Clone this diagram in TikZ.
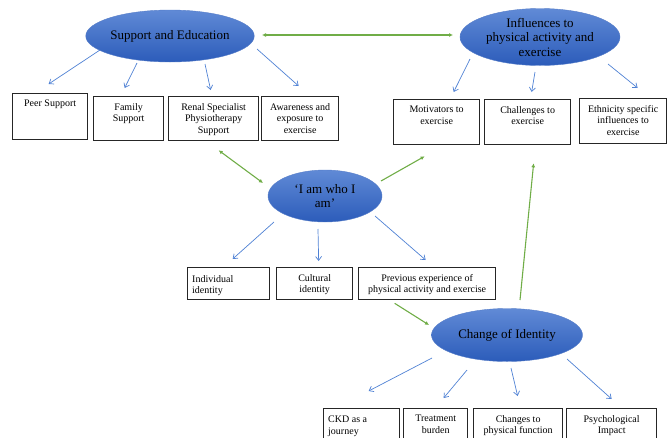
\documentclass[tikz,border=0pt]{standalone}
\usepackage{fontspec}
\setmainfont{Liberation Serif}
\usetikzlibrary{arrows.meta,shapes.geometric}
\definecolor{themetop}{RGB}{96,138,214}
\definecolor{themebot}{RGB}{44,92,186}
\definecolor{linkblue}{RGB}{79,129,212}
\definecolor{linkgreen}{RGB}{112,173,71}
\begin{document}
\begin{tikzpicture}[x=1pt,y=-1pt,
  theme/.style={ellipse, top color=themetop, bottom color=themebot, draw=themebot!80!white,
    align=center, inner sep=0pt, font=\fontsize{13}{14.5}\selectfont},
  box/.style={draw=black!85, line width=1.3pt, anchor=north west, minimum height=45pt},
  lbl/.style={anchor=north, align=center, inner sep=3pt, yshift=-4pt, font=\fontsize{10}{11.5}\selectfont},
  lbll/.style={anchor=north west, align=left, inner sep=5pt, yshift=-3pt, font=\fontsize{10}{11.5}\selectfont},
  sub/.style={linkblue, line width=0.7pt, -{Straight Barb[length=4pt,width=6pt]}},
  link/.style={linkgreen, line width=1.1pt, -{Latex[length=4pt,width=4pt]}},
  twolink/.style={linkgreen, line width=1.1pt, {Latex[length=4pt,width=4pt]}-{Latex[length=4pt,width=4pt]}}]
\useasboundingbox (0,0) rectangle (670,437);
\clip (0,0) rectangle (670,437);
% themes
\node[theme, minimum width=150pt, minimum height=52pt] (se) at (170,36) {Support and Education};
\node[theme, minimum width=160pt, minimum height=57pt] (in) at (540,37) {Influences to\\physical activity and\\exercise};
\node[theme, minimum width=114pt, minimum height=52pt] (iam) at (325,196) {‘I am who I\\am’};
\node[theme, minimum width=151pt, minimum height=53pt] (coi) at (507,335) {Change of Identity};
% sub-themes
\node[box, minimum width=75pt, minimum height=46pt, label={[lbl]north:Peer Support}] (peer) at (12,93) {};
\node[box, minimum width=70pt, minimum height=44pt, label={[lbl]north:Family\\Support}] (family) at (93,96) {};
\node[box, minimum width=90pt, minimum height=44pt, label={[lbl]north:Renal Specialist\\Physiotherapy\\Support}] (renal) at (168,96) {};
\node[box, minimum width=77pt, minimum height=44pt, label={[lbl]north:Awareness and\\exposure to\\exercise}] (aware) at (261,96) {};
\node[box, minimum width=86pt, label={[lbl]north:Motivators to\\exercise}] (motiv) at (393,99) {};
\node[box, minimum width=86pt, label={[lbl]north:Challenges to\\exercise}] (chall) at (484,99) {};
\node[box, minimum width=87pt, label={[lbl]north:Ethnicity specific\\influences to\\exercise}] (ethn) at (579,98) {};
\node[box, minimum width=82pt, minimum height=32pt, label={[lbll]north west:Individual\\identity}] (indiv) at (187,267) {};
\node[box, minimum width=76pt, minimum height=32pt, label={[lbl]north:Cultural\\identity}] (cult) at (276,267) {};
\node[box, minimum width=137pt, minimum height=32pt, label={[lbl]north:Previous experience of\\physical activity and exercise}] (prev) at (358,267) {};
\node[box, minimum width=76pt, label={[lbll]north west:CKD as a\\journey}] (ckd) at (323,408) {};
\node[box, minimum width=64pt, label={[lbl]north:Treatment\\burden}] (treat) at (403,408) {};
\node[box, minimum width=89pt, label={[lbl]north:Changes to\\physical function}] (chg) at (473,408) {};
\node[box, minimum width=90pt, label={[lbl]north:Psychological\\Impact}] (psych) at (566,408) {};
% blue arrows
\draw[sub] ([xshift=-70pt,yshift=-14pt]se.center) -- ([xshift=-1.5pt,yshift=9pt]peer.north);
\draw[sub] ([xshift=-33pt,yshift=-27pt]se.center) -- ([xshift=-4pt,yshift=8pt]family.north);
\draw[sub] ([xshift=35pt,yshift=-28pt]se.center) -- ([xshift=-3pt,yshift=6pt]renal.north);
\draw[sub] ([xshift=87pt,yshift=-13pt]se.center) -- ([xshift=-1.5pt,yshift=10pt]aware.north);
\draw[sub] ([xshift=-70pt,yshift=-22pt]in.center) -- ([xshift=17pt,yshift=7pt]motiv.north);
\draw[sub] ([xshift=-5pt,yshift=-35pt]in.center) -- ([xshift=4pt,yshift=7pt]chall.north);
\draw[sub] ([xshift=68pt,yshift=-27pt]in.center) -- ([xshift=14.5pt,yshift=10pt]ethn.north);
\draw[sub] ([xshift=-51pt,yshift=-26pt]iam.center) -- ([xshift=4pt,yshift=8pt]indiv.north);
\draw[sub] ([xshift=-7pt,yshift=-33pt]iam.center) -- ([xshift=4pt,yshift=6pt]cult.north);
\draw[sub] ([xshift=50pt,yshift=-20pt]iam.center) -- ([xshift=-1.5pt,yshift=7pt]prev.north);
\draw[sub] ([xshift=-75pt,yshift=-23pt]coi.center) -- ([xshift=7pt,yshift=17pt]ckd.north);
\draw[sub] ([xshift=-40pt,yshift=-35pt]coi.center) -- ([xshift=8pt,yshift=10pt]treat.north);
\draw[sub] ([xshift=4pt,yshift=-33pt]coi.center) -- ([xshift=-0.5pt,yshift=12pt]chg.north);
\draw[sub] ([xshift=60pt,yshift=-24pt]coi.center) -- ([xshift=0pt,yshift=9pt]psych.north);
% green links
\draw[twolink] ([xshift=92pt,yshift=1pt]se.center) -- ([xshift=-87pt,yshift=2pt]in.center);
\draw[twolink] ([xshift=5pt,yshift=-9pt]renal.south) -- ([xshift=-62pt,yshift=13pt]iam.center);
\draw[link] ([xshift=56pt,yshift=15pt]iam.center) -- ([xshift=-12pt,yshift=-11pt]motiv.south);
\draw[link] ([xshift=-32.5pt,yshift=-3pt]prev.south) -- ([xshift=-78pt,yshift=10pt]coi.center);
\draw[link] ([xshift=13pt,yshift=35pt]coi.center) -- ([xshift=6pt,yshift=-18pt]chall.south);
\end{tikzpicture}
\end{document}
